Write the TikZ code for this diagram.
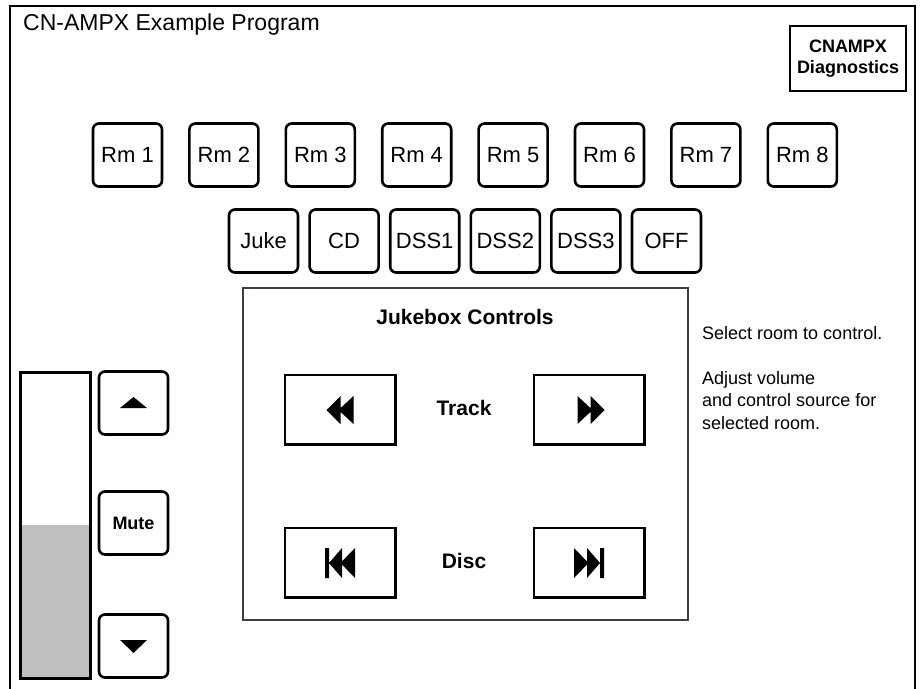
\documentclass[tikz,border=0pt]{standalone}
\usepackage{fontspec}
\setmainfont{Liberation Sans}
\definecolor{level}{HTML}{BFBFBF}
\definecolor{frame}{HTML}{3B403B}

\begin{document}
\begin{tikzpicture}[x=1pt,y=-1pt,
  key/.style={draw,line width=2.6pt,rounded corners=6pt,minimum width=69pt,minimum height=63pt,inner sep=0pt,font=\fontsize{22}{26}\selectfont},
  tport/.style={draw,line width=1.2pt,minimum width=111pt,minimum height=70pt,inner sep=0pt},
  lbl/.style={inner sep=0pt,font=\fontsize{21}{25}\selectfont\bfseries}]
\useasboundingbox (0,0) rectangle (920,688);
\draw[line width=2pt] (10,700) -- (10,6) -- (915,6) -- (915,700);
\node[anchor=base west,inner sep=0pt,font=\fontsize{23}{27}\selectfont] (title) at (23,30.5) {CN-AMPX Example Program};
\node[draw,line width=1.5pt,minimum width=116pt,minimum height=65pt,align=center,font=\fontsize{18}{21}\selectfont\bfseries] (diag) at (848,58.5) {CNAMPX\\Diagnostics};

\node[key] (rm1) at (127.5,155) {Rm 1};
\node[key] (rm2) at (223.9,155) {Rm 2};
\node[key] (rm3) at (320.3,155) {Rm 3};
\node[key] (rm4) at (416.7,155) {Rm 4};
\node[key] (rm5) at (513.1,155) {Rm 5};
\node[key] (rm6) at (609.5,155) {Rm 6};
\node[key] (rm7) at (705.9,155) {Rm 7};
\node[key] (rm8) at (802.3,155) {Rm 8};

\node[key] (juke) at (263.5,241) {Juke};
\node[key] (cd) at (344.1,241) {CD};
\node[key] (dss1) at (424.7,241) {DSS1};
\node[key] (dss2) at (505.3,241) {DSS2};
\node[key] (dss3) at (585.9,241) {DSS3};
\node[key] (off) at (666.5,241) {OFF};

\node[draw=frame,line width=2pt,minimum width=445pt,minimum height=332pt] (panel) at (465.5,454) {};
\node[lbl] (jbtitle) at (465,317) {Jukebox Controls};
\node[tport] (trb) at (340.5,410) {};
\node[tport] (trf) at (589.5,410) {};
\node[tport] (dsb) at (340.5,563) {};
\node[tport] (dsf) at (589.5,563) {};
\foreach \b in {trb,trf,dsb,dsf}
  \draw[line width=2.5pt] ([shift={(-1,2)}]\b.north east) -- ([shift={(-1,-1)}]\b.south east) -- ([shift={(2,-1)}]\b.south west);
\node[lbl] (track) at (464,408) {Track};
\node[lbl] (disc) at (464,561) {Disc};
\fill[shift={(trb)}] (-14,0) -- (0,-14) -- (0,14) -- cycle (-2,0) -- (13,-14) -- (13,14) -- cycle;
\fill[shift={(trf)}] (15,0) -- (1,-14) -- (1,14) -- cycle (3,0) -- (-12,-14) -- (-12,14) -- cycle;
\fill[shift={(dsb)}] (-15.5,-15) rectangle (-11.5,15) (-11.5,0) -- (1.5,-15) -- (1.5,15) -- cycle (0,0) -- (14.5,-15) -- (14.5,15) -- cycle;
\fill[shift={(dsf)}] (10.5,-15) rectangle (14.5,15) (10.5,0) -- (-2.5,-15) -- (-2.5,15) -- cycle (-1,0) -- (-15.5,-15) -- (-15.5,15) -- cycle;

\node[draw,line width=3.3pt,minimum width=70pt,minimum height=306pt,inner sep=0pt,
  path picture={\fill[level] (path picture bounding box.south west) rectangle ([yshift=154pt]path picture bounding box.south east);}] (vol) at (55.5,525.5) {};
\node[key] (up) at (133.5,403) {};
\node[key,font=\fontsize{18}{21}\selectfont\bfseries] (mute) at (133.5,523) {Mute};
\node[key] (down) at (133.5,646) {};
\fill[shift={(up)}] (-13.5,5) -- (0,-6) -- (13.5,5) -- cycle;
\fill[shift={(down)}] (-13.5,-6) -- (0,7) -- (13.5,-6) -- cycle;

\node[anchor=north west,inner sep=0pt,align=left,font=\fontsize{18}{22.5}\selectfont] (help) at (702,326) {Select room to control.\\[22.5pt]Adjust volume\\and control source for\\selected room.};
\end{tikzpicture}
\end{document}
